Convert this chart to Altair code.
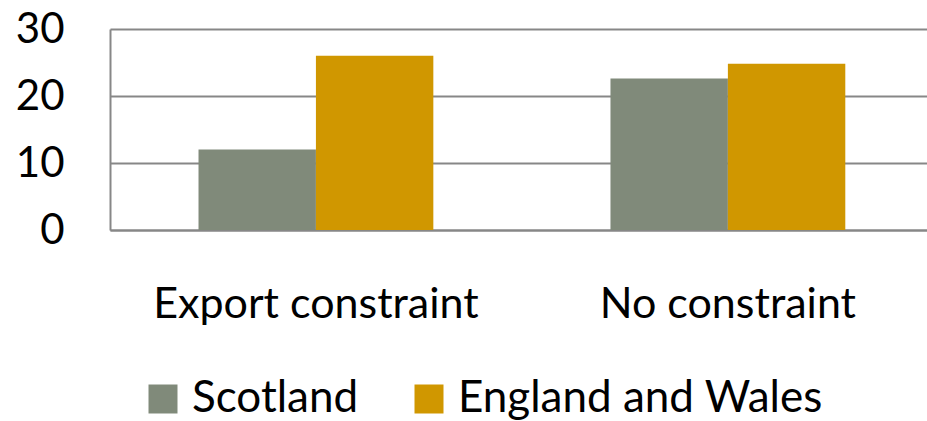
import altair as alt
import pandas as pd

categories = ["Export constraint", "Export constraint", "No constraint", "No constraint"]
regions = ["Scotland", "England and Wales", "Scotland", "England and Wales"]
values = [12, 26, 22.6, 24.8]

region_order = ["Scotland", "England and Wales"]
region_colors = ["#808A7A", "#D09700"]
y_ticks = [0, 10, 20, 30]

df = pd.DataFrame({"category": categories, "region": regions, "value": values})

FONT = "Lato"

chart = alt.Chart(df).mark_bar().encode(
    x=alt.X("category:N", title=None,
            scale=alt.Scale(paddingInner=0.43, paddingOuter=0.2066, align=0.52),
            axis=alt.Axis(labelAngle=0, labelFontSize=43, labelFont=FONT, labelColor="black",
                          labelPadding=53, ticks=False, domainColor="#878787", domainWidth=2,
                          grid=False, labelLimit=0)),
    xOffset=alt.XOffset("region:N", sort=region_order),
    y=alt.Y("value:Q", title=None,
            scale=alt.Scale(domain=[0, 30], nice=False),
            axis=alt.Axis(values=y_ticks, labelFontSize=42, labelFont=FONT, labelColor="black",
                          labelPadding=46, ticks=False, domainColor="#878787", domainWidth=2,
                          gridColor="#878787", gridWidth=2)),
    color=alt.Color("region:N", sort=region_order,
                    scale=alt.Scale(domain=region_order, range=region_colors),
                    legend=alt.Legend(title=None, orient="none", direction="horizontal",
                                      legendX=31, legendY=348, symbolType="square",
                                      symbolSize=841, symbolStrokeWidth=0, labelFontSize=44,
                                      labelFont=FONT, labelColor="black", columnPadding=48,
                                      labelOffset=7, symbolOpacity=1, labelLimit=0)),
).properties(
    width=817, height=201,
    autosize=alt.AutoSizeParams(type="none"),
    padding={"left": 110, "top": 29, "right": 0, "bottom": 191},
).configure_view(stroke=None)

chart.save("out.html", embed_options={"renderer": "svg", "actions": False})
